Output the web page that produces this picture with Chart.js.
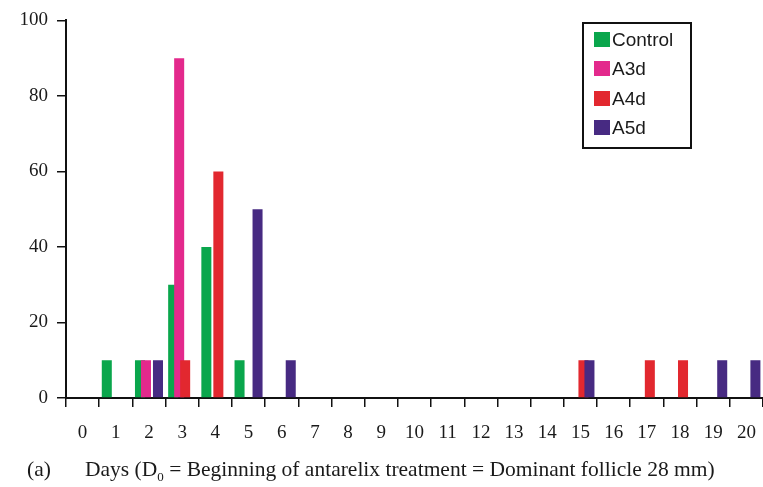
<!DOCTYPE html>
<html lang="en">
<head>
  <meta charset="UTF-8">
  <title>Follicle days</title>
  <script src="https://cdn.jsdelivr.net/npm/chart.js"></script>
  <style>
    body {
      margin: 0;
      background: #fff;
    }

    .wrap {
      position: relative;
      width: 763px;
      height: 487px;
    }

    .legend {
      position: absolute;
      left: 582px;
      top: 22px;
      width: 106px;
      height: 123px;
      border: 2px solid #111;
      font-family: 'Liberation Sans', Arial, sans-serif;
      font-size: 19px;
      color: #1a1a1a;
    }

    .legend .item {
      position: absolute;
      left: 10px;
      height: 16px;
      line-height: 16px;
      white-space: nowrap;
    }

    .legend .swatch {
      display: inline-block;
      width: 16px;
      height: 15px;
      vertical-align: top;
      margin-right: 2px;
    }

    .caption {
      position: absolute;
      top: 457px;
      font-family: 'Liberation Serif', 'Times New Roman', serif;
      font-size: 21.5px;
      color: #1a1a1a;
      white-space: nowrap;
    }
  </style>
</head>
<body>
  <div class="wrap">
    <canvas id="dayChart" width="763" height="487"></canvas>
    <div class="legend" id="legend"></div>
    <div class="caption" style="left:27px">(a)</div>
    <div class="caption" id="daysCaption" style="left:85px">Days (D<sub style="font-size:13px">0</sub> = Beginning of antarelix treatment = Dominant follicle 28 mm)</div>
  </div>

  <script>
    // Days 0..20 on the x axis
    const days = ['0', '1', '2', '3', '4', '5', '6', '7', '8', '9', '10',
                  '11', '12', '13', '14', '15', '16', '17', '18', '19', '20'];

    // Percentage of animals per day, one list per group
    const control = [0, 10, 10, 30, 40, 10, 0, 0, 0, 0, 0, 0, 0, 0, 0, 0, 0, 0, 0, 0, 0];
    const a3d     = [0, 0, 10, 90, 0, 0, 0, 0, 0, 0, 0, 0, 0, 0, 0, 0, 0, 0, 0, 0, 0];
    const a4d     = [0, 0, 0, 10, 60, 0, 0, 0, 0, 0, 0, 0, 0, 0, 0, 10, 0, 10, 10, 0, 0];
    const a5d     = [0, 0, 10, 0, 0, 50, 10, 0, 0, 0, 0, 0, 0, 0, 0, 10, 0, 0, 0, 10, 10];

    const yTicks = [0, 20, 40, 60, 80, 100];

    const groupNames  = ['Control', 'A3d', 'A4d', 'A5d'];
    const groupColors = ['#0aa64c', '#e3298c', '#e2282f', '#472a82'];
    const groupData   = [control, a3d, a4d, a5d];

    const tickFont = { family: "'Liberation Serif', 'Times New Roman', serif", size: 19 };

    // bars of one day overlap a little; later groups sit on top of earlier ones
    const drawInOrder = {
      id: 'drawInOrder',
      beforeDatasetsDraw(chart) {
        chart.data.datasets.forEach((ds, i) => {
          const meta = chart.getDatasetMeta(i);
          if (!meta.hidden) meta.controller.draw();
        });
        return false;
      }
    };

    const chart = new Chart(document.getElementById('dayChart'), {
      type: 'bar',
      data: {
        labels: days,
        datasets: groupNames.map((name, i) => ({
          label: name,
          data: groupData[i],
          backgroundColor: groupColors[i],
          borderWidth: 0,
          categoryPercentage: 0.723,
          barPercentage: 1.67
        }))
      },
      options: {
        responsive: false,
        animation: false,
        layout: { padding: { top: 17, right: 0, bottom: 0, left: 0 } },
        plugins: {
          legend: { display: false },
          tooltip: { enabled: false }
        },
        scales: {
          x: {
            offset: true,
            grid: {
              offset: true,
              drawOnChartArea: false,
              drawTicks: true,
              tickLength: 9,
              color: '#111',
              lineWidth: 1.5
            },
            border: { display: true, color: '#111', width: 2 },
            ticks: {
              font: tickFont,
              color: '#1a1a1a',
              padding: 15,
              maxRotation: 0,
              autoSkip: false
            },
            afterFit(scale) {
              scale.height = 89;
              scale.paddingLeft = 0;
              scale.paddingRight = 0;
            }
          },
          y: {
            min: 0,
            max: 100,
            afterBuildTicks(scale) { scale.ticks = yTicks.map(v => ({ value: v })); },
            grid: {
              drawOnChartArea: false,
              drawTicks: true,
              tickLength: 9,
              color: '#111',
              lineWidth: 1.5
            },
            border: { display: true, color: '#111', width: 2 },
            ticks: {
              font: tickFont,
              color: '#1a1a1a',
              padding: 9
            },
            afterFit(scale) { scale.width = 66; }
          }
        }
      },
      plugins: [drawInOrder]
    });

    // legend box built from the chart's datasets
    const legend = document.getElementById('legend');
    const rowTops = [8, 37, 67, 96];
    chart.data.datasets.forEach((ds, i) => {
      const item = document.createElement('div');
      item.className = 'item';
      item.style.top = rowTops[i] + 'px';
      item.innerHTML = '<span class="swatch" style="background:' + ds.backgroundColor + '"></span>' + ds.label;
      legend.appendChild(item);
    });
  </script>
</body>
</html>
